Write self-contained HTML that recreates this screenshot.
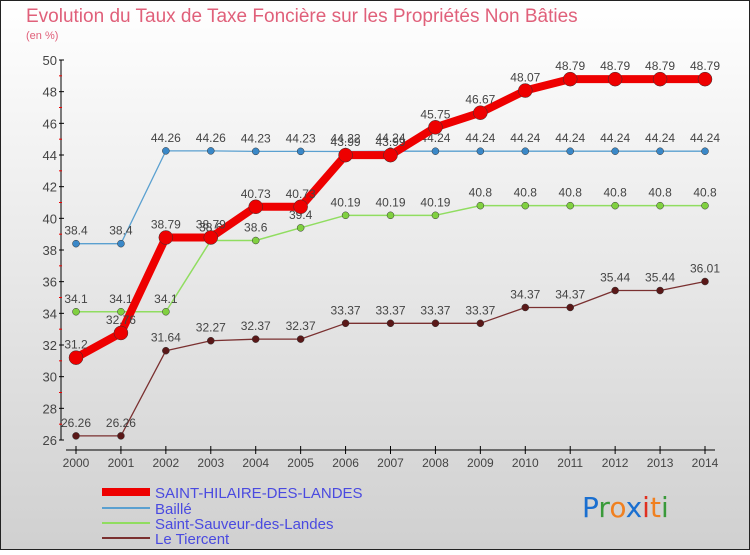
<!DOCTYPE html>
<html><head><meta charset="utf-8"><style>
body{margin:0;width:750px;height:550px;overflow:hidden;font-family:"Liberation Sans",sans-serif}
</style></head><body>
<svg id="c" width="750" height="550">
<defs><linearGradient id="bg" x1="0" y1="0" x2="0" y2="1"><stop offset="0" stop-color="#ffffff"/><stop offset="1" stop-color="#d0d0d0"/></linearGradient></defs>
<rect x="0.5" y="0.5" width="749" height="549" fill="url(#bg)" stroke="#222"/>
<text x="26" y="22" font-size="19" fill="#e0607a">Evolution du Taux de Taxe Foncière sur les Propriétés Non Bâties</text>
<text x="26" y="39" font-size="11" fill="#e0607a">(en %)</text>
<g id="axes"></g><g id="series"></g>
<g>
<line x1="102" y1="492" x2="150" y2="492" stroke="#ee0000" stroke-width="8"/>
<text x="155" y="498" font-size="15" fill="#4a4ae0">SAINT-HILAIRE-DES-LANDES</text>
<line x1="102" y1="508" x2="150" y2="508" stroke="#5aa0d0" stroke-width="2"/>
<text x="155" y="514" font-size="15" fill="#4a4ae0">Baillé</text>
<line x1="102" y1="523" x2="150" y2="523" stroke="#90dd60" stroke-width="2"/>
<text x="155" y="529" font-size="15" fill="#4a4ae0">Saint-Sauveur-des-Landes</text>
<line x1="102" y1="538" x2="150" y2="538" stroke="#7a3030" stroke-width="2"/>
<text x="155" y="544" font-size="15" fill="#4a4ae0">Le Tiercent</text>
</g>
<g font-size="28" font-family="DejaVu Sans,sans-serif">
<text x="582" y="517"><tspan fill="#1a6fd0">P</tspan><tspan fill="#3a9a3a">r</tspan><tspan fill="#f08020">o</tspan><tspan fill="#1a6fd0">x</tspan><tspan fill="#e03020">i</tspan><tspan fill="#f08020">t</tspan><tspan fill="#3a9a3a">i</tspan></text>
</g>
</svg>
<script>
const years=[2000,2001,2002,2003,2004,2005,2006,2007,2008,2009,2010,2011,2012,2013,2014];
const yTicks=[26,28,30,32,34,36,38,40,42,44,46,48,50];
const sthilaire=[31.2,32.76,38.79,38.79,40.73,40.73,43.99,43.99,45.75,46.67,48.07,48.79,48.79,48.79,48.79];
const baille=[38.4,38.4,44.26,44.26,44.23,44.23,44.22,44.24,44.24,44.24,44.24,44.24,44.24,44.24,44.24];
const stsauveur=[34.1,34.1,34.1,38.6,38.6,39.4,40.19,40.19,40.19,40.8,40.8,40.8,40.8,40.8,40.8];
const tiercent=[26.26,26.26,31.64,32.27,32.37,32.37,33.37,33.37,33.37,33.37,34.37,34.37,35.44,35.44,36.01];
const NS="http://www.w3.org/2000/svg";
const X=i=>76+i*(705-76)/(years.length-1);
const Y=v=>440-(v-26)*(380/24);
function mk(t,a,p){const e=document.createElementNS(NS,t);for(const k in a)e.setAttribute(k,a[k]);p.appendChild(e);return e;}
const ax=document.getElementById('axes');
const yl=mk('line',{x1:61,y1:60,x2:61,y2:440,stroke:'#000'},ax);


yTicks.forEach((v,i)=>{
 mk('line',{x1:59,y1:Y(v),x2:64,y2:Y(v),stroke:'#000'},ax);
 if(i<yTicks.length-1) mk('line',{x1:59,y1:Y(v+1),x2:62,y2:Y(v+1),stroke:'#e00'},ax);
 const t=mk('text',{x:57,y:Y(v)+5,'text-anchor':'end','font-size':13,fill:'#444'},ax);
 t.textContent=v;
 
 
});
const xl=mk('line',{x1:66,y1:450,x2:715,y2:450,stroke:'#000'},ax);


years.forEach((y,i)=>{
 mk('line',{x1:X(i),y1:446,x2:X(i),y2:454,stroke:'#000'},ax);
 const t=mk('text',{x:X(i),y:467,'text-anchor':'middle','font-size':12,fill:'#444'},ax);
 t.textContent=y;
 
 
});
const sg=document.getElementById('series');
function draw(vals,color,w,r,fill,name){
 const g=mk('g',{},sg);
 
 
 mk('polyline',{points:vals.map((v,i)=>X(i)+','+Y(v)).join(' '),fill:'none',stroke:color,'stroke-width':w,'stroke-linejoin':'round'},g);
 vals.forEach((v,i)=>{
  const c=mk('circle',{cx:X(i),cy:Y(v),r:r,fill:fill,stroke:'#333','stroke-width':0.5},g);
  
  
  const t=mk('text',{x:X(i),y:Y(v)-9,'text-anchor':'middle','font-size':12,fill:'#444'},g);
  t.textContent=v;
  
  
 });
}
draw(tiercent,'#7a3030',1.3,3.5,'#5a1818','series-le-tiercent');
draw(stsauveur,'#90dd60',1.5,3.5,'#80d040','series-saint-sauveur');
draw(baille,'#5aa0d0',1.3,3.5,'#3a88c8','series-baille');
draw(sthilaire,'#ee0000',8,7,'#ee0000','series-saint-hilaire');
</script>
</body></html>
